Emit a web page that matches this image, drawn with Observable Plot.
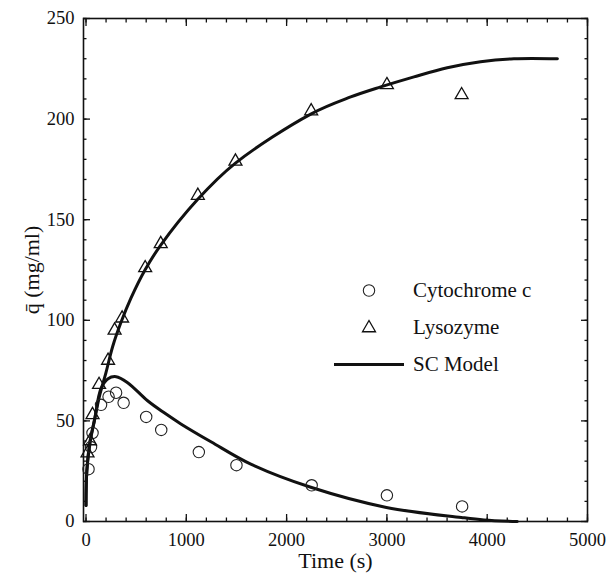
<!DOCTYPE html>
<html><head><meta charset="utf-8">
<script src="https://cdn.jsdelivr.net/npm/d3@7"></script>
<script src="https://cdn.jsdelivr.net/npm/@observablehq/plot@0.6"></script>
</head><body style="margin:0;background:#fff;">
<div id="wrap" style="position:relative;width:607px;height:577px;"></div>
<script>
// Cytochrome c (circles)
const cytoTime = [25, 50, 65, 150, 225, 300, 375, 600, 750, 1125, 1500, 2250, 3000, 3750];
const cytoQ    = [26, 37, 44, 58, 62, 64, 59, 52, 45.5, 34.5, 28, 18, 13, 7.5];
// Lysozyme (triangles)
const lysoTime = [15, 40, 65, 130, 220, 285, 360, 590, 745, 1115, 1490, 2245, 3000, 3745];
const lysoQ    = [34, 40, 53, 68, 80, 95, 101, 126, 138, 162, 179, 204, 217, 212];
// SC model curves
const modelCytoT = [0, 8, 40, 83, 149, 220, 300, 415, 614, 780, 946, 1250, 1643, 2241, 2995, 3742, 3967, 4300];
const modelCytoQ = [8, 25, 40, 50, 66, 71, 72, 69, 60, 54, 48.5, 39.5, 28.5, 17, 7, 2, 0.8, 0];
const modelLysoT = [0, 8, 43, 83, 133, 199, 266, 349, 448, 588, 740, 1112, 1487, 2241, 2639, 2938, 3270, 3602, 3934, 4266, 4700];
const modelLysoQ = [8, 25, 40, 50, 62, 74, 87, 99, 111, 125, 137, 160, 178, 202.5, 211, 216, 221, 225.5, 228.5, 230, 230];
// ticks
const xMajor = [0, 1000, 2000, 3000, 4000, 5000];
const xMinor = d3.range(0, 5001, 200);
const yMajor = [0, 50, 100, 150, 200, 250];
const yMinor = d3.range(0, 251, 10);
const legendLabels = ["Cytochrome c", "Lysozyme", "SC Model"];

const SERIF = '"Liberation Serif", serif';
const cyto = cytoTime.map((t, i) => ({t, q: cytoQ[i]}));
const lyso = lysoTime.map((t, i) => ({t, q: lysoQ[i]}));
const mCyto = modelCytoT.map((t, i) => ({t, q: modelCytoQ[i]}));
const mLyso = modelLysoT.map((t, i) => ({t, q: modelLysoQ[i]}));

const tk = (axis, anchor, ticks, size) => axis({anchor, ticks, tickSize: size, text: null, label: null, strokeWidth: 1.3});

const chart = Plot.plot({
  width: 607, height: 577,
  marginLeft: 83, marginRight: 20, marginTop: 18, marginBottom: 56,
  style: {fontSize: "18.5px", fontFamily: SERIF, color: "#111", background: "#fff"},
  x: {domain: [-25, 5000]},
  y: {domain: [0, 250]},
  marks: [
    tk(Plot.axisX, "bottom", xMinor, -3.5),
    tk(Plot.axisX, "bottom", xMajor, -7),
    tk(Plot.axisX, "top", xMinor, -3.5),
    tk(Plot.axisX, "top", xMajor, -7),
    tk(Plot.axisY, "left", yMinor, -3.5),
    tk(Plot.axisY, "left", yMajor, -7),
    tk(Plot.axisY, "right", yMinor, -3.5),
    tk(Plot.axisY, "right", yMajor, -7),
    Plot.axisX({anchor: "bottom", ticks: xMajor, tickSize: 0, tickPadding: 11, tickFormat: "d",
      label: "Time (s)", labelAnchor: "center", labelOffset: 46, labelArrow: "none"}),
    Plot.axisY({anchor: "left", ticks: yMajor, tickSize: 0, tickPadding: 9, tickFormat: "d",
      label: "q\u0304 (mg/ml)", labelAnchor: "center", labelOffset: 60, labelArrow: "none"}),
    Plot.frame({stroke: "#111", strokeWidth: 1.6}),
    Plot.line(mLyso, {x: "t", y: "q", stroke: "#111", strokeWidth: 3, curve: "catmull-rom"}),
    Plot.line(mCyto, {x: "t", y: "q", stroke: "#111", strokeWidth: 3, curve: "catmull-rom"}),
    Plot.dot(cyto, {x: "t", y: "q", r: 5.7, stroke: "#222", strokeWidth: 1.1, fill: "none"}),
    Plot.dot(lyso, {x: "t", y: "q", symbol: "triangle", r: 4.8, stroke: "#111", strokeWidth: 1.3, fill: "none"})
  ]
});
chart.style.fontFamily = SERIF;
chart.querySelectorAll("text").forEach(t => t.style.fontFamily = SERIF);
chart.querySelectorAll('g[aria-label="x-axis label"] text, g[aria-label="y-axis label"] text')
  .forEach(t => t.style.fontSize = "22px");
const wrap = document.getElementById("wrap");
wrap.appendChild(chart);

// legend
const legend = document.createElement("div");
Object.assign(legend.style, {position: "absolute", left: "330px", top: "272px", fontSize: "21px", color: "#111", fontFamily: SERIF});
wrap.appendChild(legend);
const lg = d3.select(legend);
const syms = [
  s => s.append("circle").attr("cx", 39).attr("cy", 18.5).attr("r", 5.7).attr("fill", "none").attr("stroke", "#222").attr("stroke-width", 1.1),
  s => s.append("path").attr("transform", "translate(39,19)").attr("d", d3.symbol(d3.symbolTriangle, 73)()).attr("fill", "none").attr("stroke", "#111").attr("stroke-width", 1.3),
  s => s.append("line").attr("x1", 4).attr("x2", 74).attr("y1", 18.5).attr("y2", 18.5).attr("stroke", "#111").attr("stroke-width", 3)
];
legendLabels.forEach((lab, i) => {
  const row = lg.append("div").style("display", "flex").style("align-items", "center").style("height", "37px");
  const svg = row.append("svg").attr("width", 83).attr("height", 37).style("display", "block");
  syms[i](svg);
  row.append("span").style("font-family", SERIF).text(lab);
});
</script>
</body></html>
